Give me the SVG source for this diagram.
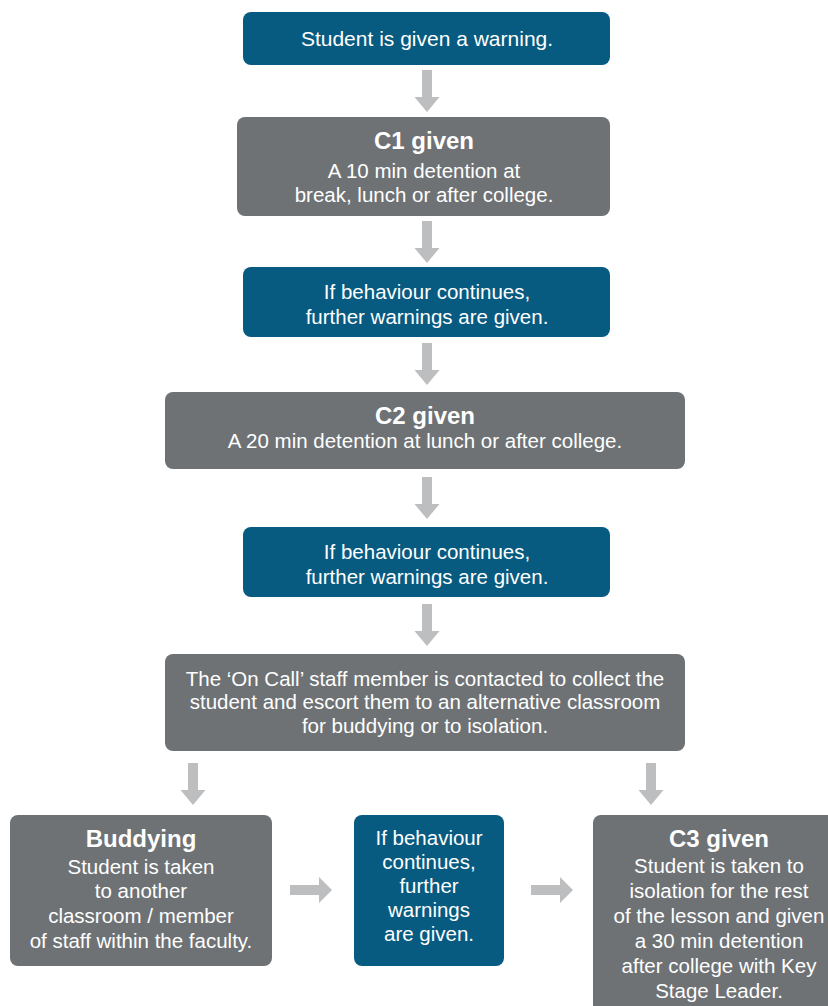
<svg xmlns="http://www.w3.org/2000/svg" xmlns:xlink="http://www.w3.org/1999/xlink" width="828" height="1006" viewBox="0 0 828 1006">
<style>
.blue{fill:#075a80}
.gray{fill:#6e7275}
.arr{fill:#bdbebf}
text{font-family:"Liberation Sans",Arial,sans-serif;fill:#ffffff;text-anchor:middle;font-size:20.5px}
.b{font-weight:bold;font-size:24px}
</style>
<defs>
<path id="down" d="M-5,0 H5 V27 H12.5 L0,42 L-12.5,27 H-5 Z"/>
<path id="right" d="M0,-5 H29 V-13 L42,0 L29,13 V5 H0 Z"/>
</defs>
<rect width="828" height="1006" fill="#ffffff"/>
<g id="connectors" class="arr">
<use xlink:href="#down" x="427" y="70"/>
<use xlink:href="#down" x="427" y="221"/>
<use xlink:href="#down" x="427" y="343"/>
<use xlink:href="#down" x="427" y="477"/>
<use xlink:href="#down" x="427" y="604"/>
<use xlink:href="#down" x="193" y="763"/>
<use xlink:href="#down" x="651" y="763"/>
<use xlink:href="#right" x="290" y="890"/>
<use xlink:href="#right" x="531" y="890"/>
</g>
<g id="n1">
<rect class="blue" x="243" y="12" width="367" height="53" rx="8"/>
<text x="427" y="46" style="font-size:21px">Student is given a warning.</text>
</g>
<g id="n2">
<rect class="gray" x="237" y="117" width="373" height="99" rx="8"/>
<text class="b" x="424" y="149">C1 given</text>
<text x="424" y="178">A 10 min detention at</text>
<text x="424" y="202">break, lunch or after college.</text>
</g>
<g id="n3">
<rect class="blue" x="243" y="267" width="367" height="70" rx="8"/>
<text x="427" y="299">If behaviour continues,</text>
<text x="427" y="324">further warnings are given.</text>
</g>
<g id="n4">
<rect class="gray" x="165" y="392" width="520" height="77" rx="8"/>
<text class="b" x="425" y="424">C2 given</text>
<text x="425" y="448">A 20 min detention at lunch or after college.</text>
</g>
<g id="n5">
<rect class="blue" x="243" y="527" width="367" height="70" rx="8"/>
<text x="427" y="559">If behaviour continues,</text>
<text x="427" y="584">further warnings are given.</text>
</g>
<g id="n6">
<rect class="gray" x="165" y="654" width="520" height="97" rx="8"/>
<text x="425" y="686">The ‘On Call’ staff member is contacted to collect the</text>
<text x="425" y="709">student and escort them to an alternative classroom</text>
<text x="425" y="733">for buddying or to isolation.</text>
</g>
<g id="n7">
<rect class="gray" x="10" y="815" width="262" height="151" rx="8"/>
<text class="b" x="141" y="847">Buddying</text>
<text x="141" y="874">Student is taken</text>
<text x="141" y="898">to another</text>
<text x="141" y="923">classroom / member</text>
<text x="141" y="948">of staff within the faculty.</text>
</g>
<g id="n8">
<rect class="blue" x="354" y="815" width="150" height="151" rx="8"/>
<text x="429" y="845">If behaviour</text>
<text x="429" y="869">continues,</text>
<text x="429" y="893">further</text>
<text x="429" y="917">warnings</text>
<text x="429" y="941">are given.</text>
</g>
<g id="n9">
<rect class="gray" x="593" y="815" width="260" height="220" rx="8"/>
<text class="b" x="719" y="847">C3 given</text>
<text x="719" y="873">Student is taken to</text>
<text x="719" y="898">isolation for the rest</text>
<text x="719" y="923">of the lesson and given</text>
<text x="719" y="948">a 30 min detention</text>
<text x="719" y="973">after college with Key</text>
<text x="719" y="998">Stage Leader.</text>
</g>
</svg>
